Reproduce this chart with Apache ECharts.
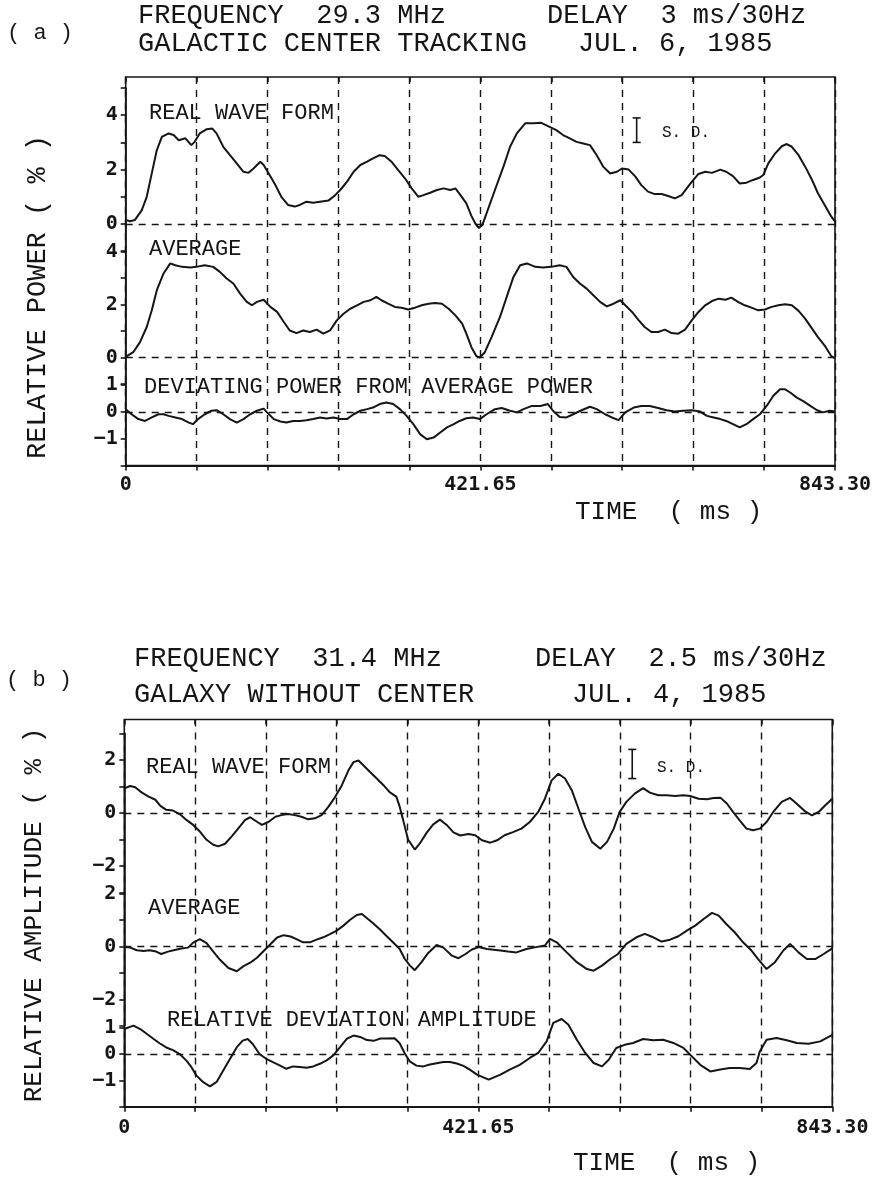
<!DOCTYPE html>
<html>
<head>
<meta charset="utf-8">
<script src="https://cdn.jsdelivr.net/npm/echarts@6/dist/echarts.min.js"></script>
<style>
  html, body { margin: 0; padding: 0; background: #fff; }
  #chart { width: 874px; height: 1177px; }
</style>
</head>
<body>
<div id="chart"></div>
<script>
// ---- time axis (ms) ----
const TIME_MAX = 843.3;
const TIME_STEP = 84.33;
const timeLabelValues = [0, 421.65, 843.3];
const timeLabelTexts = ['0', '421.65', '843.30'];

// ---- y tick labels for each band ----
const powerTopLabels = [0, 2, 4];
const powerAvgLabels = [0, 2, 4];
const powerDevLabels = [-1, 0, 1];
const ampTopLabels = [-2, 0, 2];
const ampAvgLabels = [-2, 0, 2];
const ampDevLabels = [-1, 0, 1];

// ---- (a) 29.3 MHz, galactic center tracking: [time ms, relative power %] ----
const realWaveA = [
  [0,0.15],[5,0.1],[11,0.15],[19,0.5],[25,1.0],[31,1.86],[37,2.72],[43,3.2],[51,3.33],[57,3.27],
  [63,3.08],[71,3.15],[78,2.9],[82,3.02],[88,3.33],[96,3.48],[103,3.51],[108,3.33],[116,2.84],[124,2.53],
  [132,2.23],[140,1.92],[146,1.88],[152,2.04],[160,2.29],[164,2.17],[170,1.86],[178,1.43],[185,1.0],[193,0.7],
  [201,0.64],[207,0.7],[215,0.82],[223,0.78],[231,0.82],[241,0.86],[249,1.06],[255,1.25],[263,1.55],[271,1.92],
  [279,2.17],[287,2.29],[294,2.41],[302,2.53],[308,2.5],[316,2.29],[324,1.98],[332,1.68],[340,1.31],[348,1.0],
  [354,1.06],[362,1.15],[370,1.25],[378,1.31],[386,1.25],[392,1.31],[398,1.06],[405,0.76],[411,0.3],[416,0.0],
  [420,-0.15],[424,-0.04],[429,0.39],[439,1.25],[449,2.1],[457,2.84],[465,3.33],[475,3.7],[485,3.7],[494,3.72],
  [504,3.57],[512,3.45],[520,3.27],[528,3.15],[536,3.02],[544,2.96],[552,2.9],[560,2.53],[568,2.1],[576,1.86],
  [584,1.92],[590,2.04],[598,2.0],[606,1.74],[613,1.43],[621,1.19],[629,1.1],[637,1.1],[645,1.03],[653,0.94],
  [661,1.06],[667,1.31],[673,1.55],[681,1.84],[689,1.92],[697,1.88],[707,2.0],[714,1.92],[722,1.76],[730,1.49],
  [738,1.52],[746,1.62],[754,1.71],[758,1.8],[764,2.23],[772,2.59],[780,2.86],[786,2.94],[792,2.84],[800,2.53],
  [808,2.1],[816,1.62],[823,1.13],[831,0.7],[839,0.27],[843.3,0.09]
];
const averageA = [
  [0,0.02],[9,0.2],[17,0.58],[25,1.15],[31,1.78],[37,2.54],[45,3.17],[53,3.55],[59,3.48],[67,3.42],
  [77,3.4],[84,3.42],[94,3.48],[104,3.42],[112,3.23],[120,2.98],[128,2.79],[136,2.41],[144,2.1],[150,1.97],
  [156,2.1],[164,2.18],[172,1.91],[180,1.72],[188,1.34],[195,1.02],[203,0.92],[211,1.02],[219,0.96],[227,1.05],
  [235,0.9],[243,1.02],[251,1.4],[259,1.65],[267,1.84],[275,1.97],[283,2.1],[291,2.16],[298,2.29],[304,2.16],
  [312,2.03],[320,1.91],[328,1.88],[336,1.81],[344,1.88],[352,1.97],[360,2.03],[368,2.06],[376,2.03],[384,1.84],
  [392,1.59],[400,1.28],[405,0.9],[411,0.39],[417,0.05],[421,0.0],[427,0.2],[435,0.77],[445,1.53],[453,2.29],
  [461,3.04],[469,3.48],[477,3.55],[487,3.42],[496,3.4],[506,3.42],[516,3.48],[524,3.42],[532,3.04],[540,2.79],
  [548,2.6],[556,2.35],[564,2.1],[572,1.93],[580,2.03],[588,2.16],[594,1.97],[602,1.72],[610,1.4],[617,1.15],
  [625,0.96],[633,0.96],[641,1.05],[649,0.92],[657,0.9],[665,1.05],[673,1.4],[681,1.72],[689,1.97],[697,2.13],
  [705,2.22],[713,2.18],[720,2.26],[728,2.1],[736,1.97],[744,1.88],[752,1.78],[760,1.81],[768,1.91],[776,1.97],
  [784,2.01],[792,1.97],[800,1.76],[808,1.46],[816,1.09],[823,0.77],[831,0.45],[839,0.05],[843.3,-0.03]
];
const deviationA = [
  [0,0.1],[7,-0.09],[15,-0.27],[23,-0.34],[31,-0.21],[39,-0.09],[45,-0.09],[51,-0.15],[59,-0.21],[67,-0.27],
  [75,-0.4],[80,-0.46],[86,-0.27],[94,-0.09],[102,0.04],[108,0.06],[116,-0.09],[124,-0.27],[132,-0.4],[140,-0.27],
  [148,-0.09],[156,0.04],[164,0.12],[168,-0.02],[176,-0.27],[184,-0.36],[191,-0.4],[199,-0.34],[207,-0.34],[215,-0.31],
  [223,-0.27],[231,-0.21],[239,-0.25],[247,-0.21],[255,-0.27],[263,-0.27],[271,-0.09],[279,0.04],[287,0.1],[294,0.16],
  [302,0.29],[310,0.35],[318,0.29],[326,0.1],[334,-0.15],[342,-0.46],[350,-0.83],[358,-1.02],[366,-0.96],[374,-0.77],
  [382,-0.58],[390,-0.46],[397,-0.34],[405,-0.24],[413,-0.21],[421,-0.27],[429,-0.09],[439,0.1],[447,0.14],[457,0.04],
  [465,-0.02],[473,0.1],[483,0.22],[493,0.22],[502,0.29],[508,0.04],[516,-0.19],[524,-0.21],[532,-0.09],[542,0.06],
  [552,0.19],[560,0.1],[570,-0.09],[578,-0.21],[586,-0.31],[594,-0.02],[604,0.16],[613,0.22],[623,0.22],[633,0.14],
  [643,0.06],[653,0.01],[663,0.04],[673,0.06],[683,0.01],[691,-0.15],[699,-0.21],[707,-0.27],[714,-0.34],[722,-0.46],
  [730,-0.58],[738,-0.46],[746,-0.27],[754,-0.09],[762,0.22],[770,0.6],[778,0.84],[784,0.84],[790,0.72],[798,0.53],
  [806,0.39],[814,0.22],[822,0.06],[829,-0.02],[837,0.04],[843.3,0.01]
];
const sdBarA = [607.5, 3.0, 3.9];

// ---- (b) 31.4 MHz, galaxy without center: [time ms, relative amplitude %] ----
const realWaveB = [
  [0,0.93],[7,1.02],[13,0.97],[21,0.77],[29,0.62],[37,0.5],[43,0.27],[50,0.12],[58,0.09],[66,-0.04],
  [74,-0.26],[82,-0.45],[90,-0.7],[98,-1.01],[106,-1.2],[112,-1.26],[120,-1.16],[128,-0.88],[136,-0.57],[144,-0.26],
  [150,-0.16],[158,-0.33],[164,-0.45],[172,-0.33],[180,-0.14],[187,-0.08],[195,-0.04],[203,-0.08],[211,-0.14],[219,-0.24],
  [227,-0.2],[235,-0.08],[243,0.23],[251,0.6],[259,1.04],[267,1.61],[273,1.92],[279,1.98],[285,1.79],[293,1.54],
  [301,1.29],[309,1.04],[316,0.79],[324,0.62],[328,0.24],[332,-0.25],[338,-1.0],[346,-1.38],[352,-1.15],[360,-0.75],
  [368,-0.43],[376,-0.25],[384,-0.45],[392,-0.73],[400,-0.85],[410,-0.79],[418,-0.84],[426,-1.03],[436,-1.12],[444,-1.03],
  [453,-0.84],[463,-0.72],[473,-0.59],[483,-0.34],[493,0.04],[501,0.54],[509,1.23],[517,1.48],[525,1.3],[533,0.86],
  [541,0.16],[549,-0.53],[557,-1.09],[567,-1.35],[575,-1.09],[583,-0.59],[590,0.04],[598,0.42],[608,0.73],[618,0.94],
  [626,0.77],[636,0.67],[646,0.67],[656,0.64],[666,0.67],[674,0.64],[684,0.54],[694,0.52],[702,0.57],[710,0.58],
  [718,0.35],[725,0.04],[733,-0.28],[741,-0.59],[749,-0.65],[757,-0.59],[765,-0.34],[773,0.04],[783,0.42],[793,0.57],
  [801,0.35],[811,0.06],[819,-0.09],[827,0.04],[835,0.29],[843.3,0.54]
];
const averageB = [
  [0,-0.03],[7,-0.05],[15,-0.15],[23,-0.18],[30,-0.15],[38,-0.2],[44,-0.29],[52,-0.2],[60,-0.14],[68,-0.08],
  [76,-0.05],[82,0.14],[90,0.27],[98,0.12],[106,-0.2],[114,-0.51],[124,-0.82],[134,-0.94],[142,-0.75],[150,-0.62],
  [158,-0.43],[166,-0.18],[174,0.08],[182,0.33],[190,0.42],[198,0.37],[205,0.27],[213,0.15],[221,0.15],[229,0.25],
  [237,0.34],[245,0.46],[253,0.59],[261,0.78],[269,1.0],[277,1.18],[283,1.22],[288,1.09],[296,0.88],[304,0.65],
  [312,0.4],[320,0.15],[328,-0.1],[334,-0.47],[340,-0.72],[346,-0.9],[354,-0.6],[362,-0.25],[372,0.05],[380,-0.05],
  [390,-0.35],[398,-0.45],[406,-0.3],[414,-0.12],[422,-0.03],[432,-0.1],[448,-0.16],[457,-0.2],[467,-0.23],[479,-0.1],
  [489,-0.04],[501,0.03],[507,0.28],[515,0.15],[527,-0.23],[539,-0.6],[551,-0.86],[559,-0.92],[569,-0.73],[579,-0.48],
  [588,-0.29],[598,0.09],[610,0.34],[620,0.47],[630,0.34],[640,0.18],[650,0.25],[660,0.38],[670,0.59],[680,0.78],
  [690,1.03],[700,1.26],[708,1.16],[717,0.84],[727,0.53],[737,0.15],[747,-0.16],[755,-0.48],[765,-0.86],[775,-0.6],
  [785,-0.16],[793,0.09],[803,-0.23],[813,-0.48],[823,-0.48],[833,-0.29],[843.3,-0.08]
];
const deviationB = [
  [0,0.95],[11,1.08],[19,0.95],[27,0.76],[35,0.57],[42,0.41],[50,0.25],[58,0.15],[66,0.0],[74,-0.25],
  [80,-0.5],[86,-0.82],[94,-1.07],[102,-1.23],[110,-1.06],[118,-0.62],[126,-0.18],[134,0.26],[141,0.51],[147,0.57],
  [153,0.38],[161,0.0],[169,-0.18],[177,-0.31],[185,-0.43],[193,-0.56],[201,-0.47],[209,-0.49],[217,-0.52],[225,-0.47],
  [233,-0.37],[241,-0.24],[249,-0.05],[257,0.26],[265,0.58],[273,0.7],[281,0.65],[289,0.53],[297,0.5],[305,0.59],
  [312,0.59],[322,0.6],[328,0.41],[334,0.03],[340,-0.28],[348,-0.44],[356,-0.47],[364,-0.4],[372,-0.35],[380,-0.3],
  [388,-0.3],[396,-0.36],[404,-0.45],[412,-0.6],[420,-0.78],[434,-0.97],[448,-0.78],[459,-0.59],[471,-0.41],[483,-0.15],
  [493,0.04],[503,0.48],[511,1.18],[521,1.33],[529,1.11],[539,0.54],[549,0.04],[559,-0.34],[569,-0.47],[577,-0.22],
  [586,0.23],[596,0.35],[606,0.42],[618,0.57],[630,0.52],[642,0.54],[654,0.42],[666,0.23],[676,-0.09],[686,-0.41],
  [698,-0.66],[710,-0.59],[721,-0.53],[733,-0.53],[745,-0.57],[753,-0.34],[757,0.1],[765,0.54],[777,0.61],[789,0.52],
  [801,0.42],[815,0.39],[829,0.48],[843.3,0.73]
];
const sdBarB = [605, 1.3, 2.4];

// ---- styling ----
const INK = '#151515';
const MONO = '"Liberation Mono", "DejaVu Sans Mono", monospace';
const TICK_FONT = '"DejaVu Sans Mono", monospace';
const DASH = [7, 6];

function timeLabel(v) {
  for (let i = 0; i < timeLabelValues.length; i++) {
    if (Math.abs(v - timeLabelValues[i]) < 0.01) return timeLabelTexts[i];
  }
  return '';
}
function valueText(v) {
  return v < 0 ? '\u2212' + Math.abs(v) : String(v);
}

const option = {
  animation: false,
  backgroundColor: '#ffffff',
  grid: [], xAxis: [], yAxis: [], series: [], graphic: []
};

function addPanel(p) {
  // outer frame with the vertical time grid
  const fg = option.grid.length;
  option.grid.push({
    left: p.left, top: p.top, width: p.width, height: p.height,
    show: true, borderColor: INK, borderWidth: 1.6, backgroundColor: 'transparent',
    containLabel: false, outerBoundsMode: 'none'
  });
  option.xAxis.push({
    gridIndex: fg, type: 'value', min: 0, max: TIME_MAX, interval: TIME_STEP,
    axisLine: { show: true, lineStyle: { color: INK, width: 2 } },
    axisTick: { show: true, length: 5, lineStyle: { color: INK, width: 1.6 } },
    axisLabel: {
      show: true, margin: p.labelMargin, formatter: timeLabel, color: INK,
      fontFamily: TICK_FONT, fontWeight: 'bold', fontSize: 20
    },
    splitLine: { show: true, lineStyle: { color: INK, width: 1.4, type: DASH } }
  });
  option.xAxis.push({
    gridIndex: fg, type: 'value', min: 0, max: TIME_MAX, interval: TIME_STEP,
    axisLine: { show: false },
    axisTick: { show: true, inside: true, length: 5, lineStyle: { color: INK, width: 1.6 } },
    axisLabel: { show: false }, splitLine: { show: false }
  });
  option.yAxis.push({ gridIndex: fg, type: 'value', min: 0, max: 1, show: false });

  // stacked bands sharing the time axis
  p.bands.forEach(b => {
    const g = option.grid.length;
    option.grid.push({
      left: p.left, top: b.top, width: p.width, height: b.bottom - b.top,
      show: false, containLabel: false, outerBoundsMode: 'none'
    });
    const xi = option.xAxis.length;
    option.xAxis.push({ gridIndex: g, type: 'value', min: 0, max: TIME_MAX, show: false });
    const yi = option.yAxis.length;
    option.yAxis.push({
      gridIndex: g, type: 'value', min: b.min, max: b.max, interval: 1,
      axisLine: { show: true, lineStyle: { color: INK, width: 1.6 } },
      axisTick: { show: true, length: 5, lineStyle: { color: INK, width: 1.6 } },
      splitLine: { show: false },
      axisLabel: {
        margin: 8, color: INK, fontFamily: TICK_FONT, fontWeight: 'bold', fontSize: 20,
        formatter: v => (b.labels.indexOf(Math.round(v)) >= 0 && Math.abs(v - Math.round(v)) < 1e-6) ? valueText(Math.round(v)) : ''
      }
    });
    option.series.push({
      type: 'line', xAxisIndex: xi, yAxisIndex: yi, data: b.data,
      showSymbol: false, symbol: 'none', clip: false, z: 4,
      lineStyle: { color: INK, width: 2 },
      markLine: {
        silent: true, symbol: ['none', 'none'], label: { show: false },
        lineStyle: { color: INK, width: 1.4, type: DASH },
        data: [{ yAxis: 0 }]
      }
    });
    if (b.sd) {
      option.series.push({
        type: 'custom', xAxisIndex: xi, yAxisIndex: yi, data: [b.sd], clip: false, z: 4,
        renderItem: (params, api) => {
          const hi = api.coord([api.value(0), api.value(2)]);
          const lo = api.coord([api.value(0), api.value(1)]);
          const w = 4;
          const st = { stroke: INK, lineWidth: 1.6 };
          return {
            type: 'group', children: [
              { type: 'line', shape: { x1: hi[0], y1: hi[1], x2: lo[0], y2: lo[1] }, style: st },
              { type: 'line', shape: { x1: hi[0] - w, y1: hi[1], x2: hi[0] + w, y2: hi[1] }, style: st },
              { type: 'line', shape: { x1: lo[0] - w, y1: lo[1], x2: lo[0] + w, y2: lo[1] }, style: st }
            ]
          };
        }
      });
    }
  });
}

addPanel({
  left: 125.7, top: 77, width: 709.3, height: 388.5, labelMargin: 9,
  bands: [
    { top: 88, bottom: 251.2, min: -1, max: 5, labels: powerTopLabels, data: realWaveA, sd: sdBarA },
    { top: 251.5, bottom: 384, min: -1, max: 4, labels: powerAvgLabels, data: averageA },
    { top: 385, bottom: 465.5, min: -2, max: 1, labels: powerDevLabels, data: deviationA }
  ]
});
addPanel({
  left: 124.3, top: 719.5, width: 708, height: 387.2, labelMargin: 11,
  bands: [
    { top: 733.5, bottom: 892.5, min: -3, max: 3, labels: ampTopLabels, data: realWaveB, sd: sdBarB },
    { top: 893.3, bottom: 1025.8, min: -3, max: 2, labels: ampAvgLabels, data: averageB },
    { top: 1027.7, bottom: 1106.7, min: -2, max: 1, labels: ampDevLabels, data: deviationB }
  ]
});

// headings, band captions and axis names
function txt(text, x, y, size, extra) {
  return Object.assign({
    type: 'text', x: x, y: y, silent: true, z: 10,
    style: {
      text: text, font: size + 'px ' + MONO, fill: INK,
      textAlign: 'left', textVerticalAlign: 'middle', align: 'left', verticalAlign: 'middle'
    }
  }, extra || {});
}
function vtxt(text, x, y, size) {
  return {
    type: 'text', x: x, y: y, rotation: Math.PI / 2, silent: true, z: 10,
    style: {
      text: text, font: size + 'px ' + MONO, fill: INK,
      textAlign: 'center', textVerticalAlign: 'middle', align: 'center', verticalAlign: 'middle'
    }
  };
}

option.graphic = [
  // (a)
  txt('( a )', 7, 33, 22),
  txt('FREQUENCY  29.3 MHz', 138, 16, 27),
  txt('DELAY  3 ms/30Hz', 547, 16, 27),
  txt('GALACTIC CENTER TRACKING', 138, 44, 27),
  txt('JUL. 6, 1985', 578, 44, 27),
  txt('REAL WAVE FORM', 149, 113, 22),
  txt('AVERAGE', 149, 249, 22),
  txt('DEVIATING POWER FROM AVERAGE POWER', 144, 387, 22),
  txt('S. D.', 662, 133, 16),
  vtxt('RELATIVE POWER ( % )', 38, 297, 27),
  txt('TIME  ( ms )', 575, 512, 26),
  // (b)
  txt('( b )', 6, 680, 22),
  txt('FREQUENCY  31.4 MHz', 134, 659, 27),
  txt('DELAY  2.5 ms/30Hz', 535, 659, 27),
  txt('GALAXY WITHOUT CENTER', 134, 695, 27),
  txt('JUL. 4, 1985', 572, 695, 27),
  txt('REAL WAVE FORM', 146, 767, 22),
  txt('AVERAGE', 148, 908, 22),
  txt('RELATIVE DEVIATION AMPLITUDE', 167, 1020, 22),
  txt('S. D.', 657, 768, 16),
  vtxt('RELATIVE AMPLITUDE ( % )', 34, 915, 26),
  txt('TIME  ( ms )', 573, 1163, 26)
];

const chart = echarts.init(document.getElementById('chart'), null, { renderer: 'canvas' });
chart.setOption(option);
</script>
</body>
</html>
